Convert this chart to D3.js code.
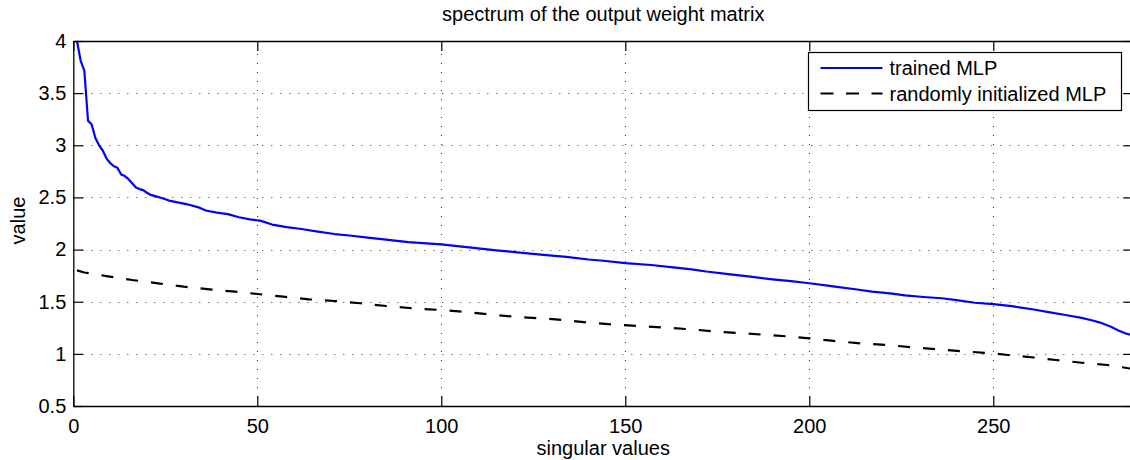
<!DOCTYPE html>
<html>
<head>
<meta charset="utf-8">
<script src="https://cdn.jsdelivr.net/npm/d3@7"></script>
<style>
  html, body { margin: 0; padding: 0; background: #fff; }
  svg { display: block; font-family: "Liberation Sans", Arial, Helvetica, sans-serif; }
</style>
</head>
<body>
<svg id="chart" width="1130" height="460"></svg>
<script>
// Singular values of the output weight matrix (index, value)
const trainedIdx = [1, 2, 3, 4, 5, 6, 7, 8, 9, 10, 11, 12, 13, 14, 15, 16, 17, 18, 19, 20,
  21, 22, 24, 26, 28, 31, 34, 36, 39, 42, 45, 48, 51, 54, 58, 62, 66, 71, 75, 80,
  85, 91, 96, 100, 105, 110, 115, 120, 127, 134, 140, 144, 150, 157, 163, 168, 172, 178, 184, 190,
  195, 200, 205, 208, 213, 217, 222, 226, 231, 236, 240, 245, 250, 255, 261, 265, 270, 274, 277, 279,
  282, 284, 286, 288];
const trainedVal = [4.00, 3.81, 3.715, 3.235, 3.20, 3.07, 3.00, 2.95, 2.875, 2.83, 2.80, 2.785, 2.72, 2.705, 2.675, 2.635, 2.595, 2.58, 2.57, 2.545,
  2.525, 2.515, 2.495, 2.47, 2.455, 2.434, 2.405, 2.375, 2.355, 2.34, 2.31, 2.29, 2.275, 2.24, 2.215, 2.197, 2.175, 2.149, 2.135, 2.114,
  2.095, 2.072, 2.06, 2.05, 2.03, 2.012, 1.993, 1.975, 1.952, 1.93, 1.905, 1.893, 1.87, 1.852, 1.83, 1.81, 1.79, 1.765, 1.74, 1.715,
  1.697, 1.677, 1.655, 1.64, 1.617, 1.596, 1.58, 1.56, 1.545, 1.533, 1.515, 1.49, 1.477, 1.458, 1.425, 1.40, 1.37, 1.345, 1.32, 1.30,
  1.26, 1.225, 1.195, 1.175];

const randomIdx = [1, 3, 9, 16, 23, 30, 37, 44, 50, 57, 64, 71, 78, 85, 92, 100, 106, 113, 120, 127,
  133, 140, 147, 154, 161, 168, 175, 182, 190, 195, 200, 206, 214, 221, 228, 235, 243, 250, 254, 261,
  267, 274, 281, 288];
const randomVal = [1.80, 1.78, 1.746, 1.708, 1.676, 1.644, 1.619, 1.596, 1.574, 1.548, 1.523, 1.507, 1.485, 1.459, 1.437, 1.42, 1.404, 1.379, 1.356, 1.341,
  1.325, 1.30, 1.28, 1.267, 1.251, 1.235, 1.212, 1.197, 1.178, 1.165, 1.149, 1.126, 1.10, 1.085, 1.063, 1.044, 1.021, 1.005, 0.989, 0.965,
  0.941, 0.915, 0.893, 0.855];

const xTicks = [0, 50, 100, 150, 200, 250];
const yTicks = [0.5, 1, 1.5, 2, 2.5, 3, 3.5, 4];
const xDomain = [0, 288];
const yDomain = [0.5, 4];

const seriesNames = ["trained MLP", "randomly initialized MLP"];
const titleText = "spectrum of the output weight matrix";
const xLabel = "singular values";
const yLabel = "value";

const svg = d3.select("#chart");
const W = 1130, H = 460;
const plotL = 73.3, plotT = 41, plotB = 406;
const pxPerUnit = 3.68;
const plotR = plotL + (xDomain[1] - xDomain[0]) * pxPerUnit;

svg.append("rect").attr("width", W).attr("height", H).attr("fill", "#fff");

const x = d3.scaleLinear().domain(xDomain).range([plotL, plotR]);
const y = d3.scaleLinear().domain(yDomain).range([plotB, plotT]);

svg.append("defs").append("clipPath").attr("id", "plotClip")
  .append("rect").attr("x", plotL).attr("y", plotT).attr("width", plotR - plotL).attr("height", plotB - plotT);

// dotted grid
const grid = svg.append("g").attr("stroke", "#111").attr("stroke-width", 1)
  .attr("stroke-dasharray", "1,8").attr("opacity", 0.85);
grid.selectAll("line.gx").data(xTicks.filter(d => d > xDomain[0] && d < xDomain[1])).join("line")
  .attr("x1", d => Math.round(x(d)) + 0.5).attr("x2", d => Math.round(x(d)) + 0.5)
  .attr("y1", plotB).attr("y2", plotT);
grid.selectAll("line.gy").data(yTicks.filter(d => d > yDomain[0] && d < yDomain[1])).join("line")
  .attr("y1", d => Math.round(y(d)) + 0.5).attr("y2", d => Math.round(y(d)) + 0.5)
  .attr("x1", plotL).attr("x2", plotR);

// series lines
const trained = trainedIdx.map((d, i) => [d, trainedVal[i]]);
const random = randomIdx.map((d, i) => [d, randomVal[i]]);
const line = d3.line().x(d => x(d[0])).y(d => y(d[1]));

const plot = svg.append("g").attr("clip-path", "url(#plotClip)");
plot.append("path").datum(random).attr("d", line)
  .attr("fill", "none").attr("stroke", "#000").attr("stroke-width", 2.2)
  .attr("stroke-dasharray", "12,13");
plot.append("path").datum(trained).attr("d", line)
  .attr("fill", "none").attr("stroke", "#0000ff").attr("stroke-width", 2.2)
  .attr("stroke-linejoin", "round");

// axes (ticks pointing inward on all four sides)
const fmt = d => String(d);
const axB = svg.append("g").attr("transform", `translate(0,${plotB})`)
  .call(d3.axisBottom(x).tickValues(xTicks).tickSize(-10).tickSizeOuter(0).tickPadding(13).tickFormat(fmt));
const axL = svg.append("g").attr("transform", `translate(${plotL},0)`)
  .call(d3.axisLeft(y).tickValues(yTicks).tickSize(-10).tickSizeOuter(0).tickPadding(7).tickFormat(fmt));
const axT = svg.append("g").attr("transform", `translate(0,${plotT})`)
  .call(d3.axisTop(x).tickValues(xTicks).tickSize(-10).tickSizeOuter(0).tickFormat(""));
const axR = svg.append("g").attr("transform", `translate(${plotR},0)`)
  .call(d3.axisRight(y).tickValues(yTicks).tickSize(-10).tickSizeOuter(0).tickFormat(""));

[axB, axL, axT, axR].forEach(a => {
  a.selectAll("path.domain").attr("stroke", "#000").attr("stroke-width", 1.3);
  a.selectAll(".tick line").attr("stroke", "#000").attr("stroke-width", 1.2);
  a.selectAll(".tick text").attr("fill", "#000").attr("font-size", 20)
    .attr("font-family", "'Liberation Sans', Arial, Helvetica, sans-serif");
});

// title and axis labels
svg.append("text").attr("x", (plotL + plotR) / 2).attr("y", 21)
  .attr("text-anchor", "middle").attr("font-size", 20).attr("fill", "#000").text(titleText);
svg.append("text").attr("x", (plotL + plotR) / 2).attr("y", 455)
  .attr("text-anchor", "middle").attr("font-size", 20).attr("fill", "#000").text(xLabel);
svg.append("text").attr("transform", `translate(25,${(plotT + plotB) / 2 - 3}) rotate(-90)`)
  .attr("text-anchor", "middle").attr("font-size", 20).attr("fill", "#000").text(yLabel);

// legend
const lg = svg.append("g").attr("transform", "translate(808.5,52.5)");
lg.append("rect").attr("width", 313).attr("height", 58)
  .attr("fill", "#fff").attr("stroke", "#000").attr("stroke-width", 1.2);
const rows = [
  { name: seriesNames[0], color: "#0000ff", dash: null, cy: 15.5 },
  { name: seriesNames[1], color: "#000", dash: "13,12.5", cy: 41 }
];
rows.forEach(r => {
  lg.append("line").attr("x1", 12).attr("x2", 74).attr("y1", r.cy).attr("y2", r.cy)
    .attr("stroke", r.color).attr("stroke-width", 2.2).attr("stroke-dasharray", r.dash);
  lg.append("text").attr("x", 81).attr("y", r.cy).attr("dy", "0.35em")
    .attr("font-size", 20).attr("fill", "#000").text(r.name);
});
</script>
</body>
</html>
